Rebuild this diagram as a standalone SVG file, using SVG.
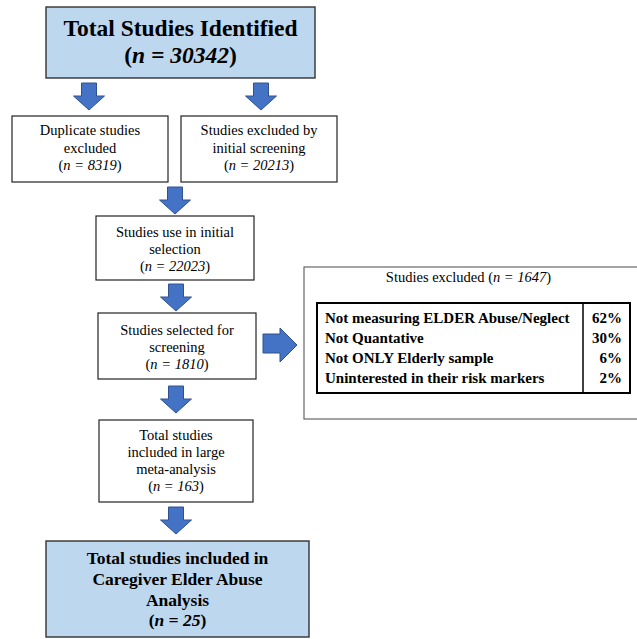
<svg xmlns="http://www.w3.org/2000/svg" width="637" height="639" viewBox="0 0 637 639">
<style>
.box{fill:#fff;stroke:#222;stroke-width:1.2}
.hl{fill:#BDD7EE;stroke:#333;stroke-width:1.4}
.t{font-family:"Liberation Serif","Times New Roman",serif;font-size:14.5px;fill:#000;text-anchor:middle}
.b{font-weight:bold}
.big{font-size:23.5px}
.fin{font-size:17.5px}
.tab{font-size:15px}
.arr{fill:#4472C4;stroke:#2F528F;stroke-width:1}
</style>
<defs>
<path id="down" d="M-7.5,0 H7.5 V13 H15.5 L0,27 L-15.5,13 H-7.5 Z"/>
</defs>
<g id="n_total">
<rect class="hl" x="46" y="7" width="269" height="71"/>
<text class="t b big" x="180.5" y="36">Total Studies Identified</text>
<text class="t b big" x="180.5" y="63">(<tspan font-style="italic">n = 30342</tspan>)</text>
</g>
<g id="n_dup">
<rect class="box" x="12" y="116" width="156" height="66"/>
<text class="t" x="90" y="135">Duplicate studies</text>
<text class="t" x="90" y="153">excluded</text>
<text class="t" x="90" y="170">(<tspan font-style="italic">n = 8319</tspan>)</text>
</g>
<g id="n_screen">
<rect class="box" x="181" y="116" width="156" height="66"/>
<text class="t" x="259" y="135">Studies excluded by</text>
<text class="t" x="259" y="153">initial screening</text>
<text class="t" x="259" y="170">(<tspan font-style="italic">n = 20213</tspan>)</text>
</g>
<g id="n_use">
<rect class="box" x="96" y="216" width="158" height="64"/>
<text class="t" x="175" y="237">Studies use in initial</text>
<text class="t" x="175" y="254">selection</text>
<text class="t" x="175" y="271">(<tspan font-style="italic">n = 22023</tspan>)</text>
</g>
<g id="n_sel">
<rect class="box" x="98" y="313" width="158" height="66"/>
<text class="t" x="177" y="335">Studies selected for</text>
<text class="t" x="177" y="352">screening</text>
<text class="t" x="177" y="369">(<tspan font-style="italic">n = 1810</tspan>)</text>
</g>
<g id="n_meta">
<rect class="box" x="99" y="420" width="154" height="82"/>
<text class="t" x="176" y="440">Total studies</text>
<text class="t" x="176" y="457">included in large</text>
<text class="t" x="176" y="474">meta-analysis</text>
<text class="t" x="176" y="491">(<tspan font-style="italic">n = 163</tspan>)</text>
</g>
<g id="n_final">
<rect class="hl" x="46" y="541" width="263" height="96"/>
<text class="t b fin" x="177.5" y="564">Total studies included in</text>
<text class="t b fin" x="177.5" y="585">Caregiver Elder Abuse</text>
<text class="t b fin" x="177.5" y="606">Analysis</text>
<text class="t b fin" x="177.5" y="626">(<tspan font-style="italic">n = 25</tspan>)</text>
</g>
<g id="n_excl">
<rect x="304" y="267" width="340" height="152" fill="#fff" stroke="#666" stroke-width="1.2"/>
<text class="t" x="468.5" y="282">Studies excluded (<tspan font-style="italic">n = 1647</tspan>)</text>
<rect x="317" y="303" width="313" height="90" fill="none" stroke="#000" stroke-width="2"/>
<line x1="583" y1="303" x2="583" y2="393" stroke="#000" stroke-width="1.5"/>
<g class="t b tab" style="text-anchor:start">
<text x="325" y="323">Not measuring ELDER Abuse/Neglect</text>
<text x="325" y="343">Not Quantative</text>
<text x="325" y="363">Not ONLY Elderly sample</text>
<text x="325" y="383">Uninterested in their risk markers</text>
</g>
<g class="t b tab" style="text-anchor:end">
<text x="622" y="323">62%</text>
<text x="622" y="343">30%</text>
<text x="622" y="363">6%</text>
<text x="622" y="383">2%</text>
</g>
</g>
<g id="connectors">
<use href="#down" class="arr" transform="translate(89,83)"/>
<use href="#down" class="arr" transform="translate(261,83)"/>
<use href="#down" class="arr" transform="translate(175,187)"/>
<use href="#down" class="arr" transform="translate(176,284)"/>
<use href="#down" class="arr" transform="translate(176,386)"/>
<use href="#down" class="arr" transform="translate(176,507)"/>
<path class="arr" d="M263,334 H280 V328 L297,345 L280,362 V353 H263 Z"/>
</g>
</svg>
